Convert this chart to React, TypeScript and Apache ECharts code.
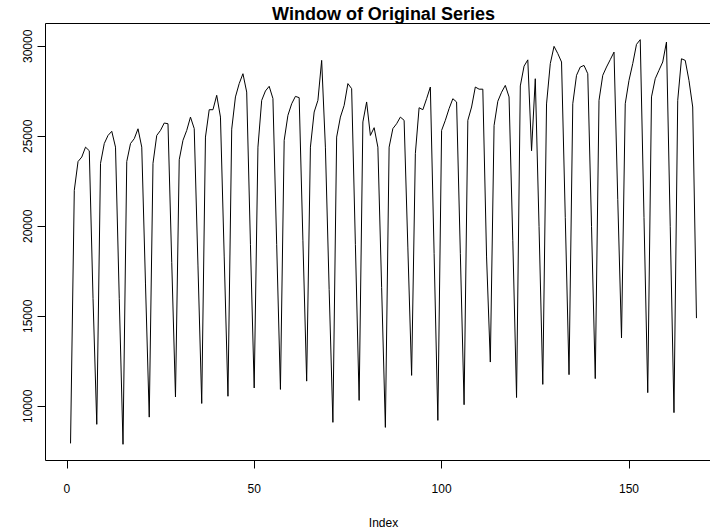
import React, { useEffect, useRef } from "react";
import * as echarts from "echarts";

const chartTitle = "Window of Original Series";
const xAxisName = "Index";
const xTicks = [0, 50, 100, 150];
const yTicks = [10000, 15000, 20000, 25000, 30000];

// values, index 1..168
const seriesValues = [
  7940, 22000, 23600, 23850, 24400, 24200, 16000,
  9000, 23500, 24600, 25050, 25280, 24400, 16000,
  7890, 23600, 24600, 24870, 25420, 24400, 16800,
  9400, 23500, 25050, 25330, 25740, 25700, 18000,
  10520, 23700, 24780, 25330, 26070, 25430, 17800,
  10160, 24960, 26480, 26480, 27280, 26070, 18300,
  10560, 25400, 27190, 27930, 28480, 27460, 19000,
  11020, 24400, 27000, 27520, 27780, 27100, 19000,
  10940, 24780, 26170, 26810, 27220, 27150, 19200,
  11400, 24400, 26350, 27000, 29220, 24400, 16500,
  9110, 24960, 26070, 26720, 27930, 27650, 19000,
  10330, 25800, 26910, 25050, 25480, 24400, 16600,
  8830, 24400, 25430, 25700, 26070, 25890, 18800,
  11720, 24040, 26590, 26480, 27090, 27740, 18500,
  9220, 25330, 25890, 26540, 27090, 26910, 18500,
  10090, 25890, 26630, 27740, 27620, 27620, 18300,
  12460, 25600, 26950, 27450, 27830, 27190, 19200,
  10490, 27800, 28900, 29250, 24200, 28200, 20000,
  11220, 26800, 29040, 30000, 29600, 29130, 20500,
  11760, 26810, 28390, 28850, 28940, 28480, 20000,
  11540, 27000, 28390, 28850, 29260, 29680, 21500,
  13800, 26810, 28110, 29040, 30110, 30370, 20500,
  10760, 27190, 28200, 28670, 29130, 30240, 20000,
  9650, 27000, 29310, 29220, 28110, 26630, 14900,
];

export default function App() {
  const ref = useRef<HTMLDivElement>(null);

  useEffect(() => {
    document.body.style.margin = "0";
    if (!ref.current) return;
    const chart = echarts.init(ref.current, null, { renderer: "svg" });
    const n = seriesValues.length;
    const xPad = (n - 1) * 0.04;
    const yMinV = Math.min(...seriesValues);
    const yMaxV = Math.max(...seriesValues);
    const yPad = (yMaxV - yMinV) * 0.04;
    const font = '"Liberation Sans", Arial, sans-serif';
    const gridLeft = 45.5;
    const gridWidth = 676;

    chart.setOption({
      animation: false,
      textStyle: { fontFamily: font },
      grid: {
        left: gridLeft,
        top: 23.5,
        width: gridWidth,
        height: 437,
        show: true,
        borderColor: "#000",
        borderWidth: 1,
        backgroundColor: "transparent",
        containLabel: false,
        outerBoundsMode: "none",
      },
      graphic: [
        {
          type: "text",
          x: gridLeft + gridWidth / 2,
          y: 14,
          style: {
            text: chartTitle,
            textAlign: "center",
            textVerticalAlign: "middle",
            font: 'bold 18px "Liberation Sans", Arial, sans-serif',
            fill: "#000",
          },
        },
      ],
      xAxis: {
        type: "value",
        min: 1 - xPad,
        max: n + xPad,
        name: xAxisName,
        nameLocation: "middle",
        nameGap: 56,
        nameTextStyle: { fontSize: 12, color: "#000", fontFamily: font },
        axisLine: { show: false, onZero: false },
        axisTick: {
          show: true,
          inside: false,
          length: 8,
          customValues: xTicks,
          lineStyle: { color: "#000", width: 1 },
        },
        axisLabel: {
          customValues: xTicks,
          margin: 22,
          fontSize: 12,
          color: "#000",
          fontFamily: font,
        },
        splitLine: { show: false },
      },
      yAxis: {
        type: "value",
        min: yMinV - yPad,
        max: yMaxV + yPad,
        axisLine: { show: false, onZero: false },
        axisTick: {
          show: true,
          inside: false,
          length: 8,
          customValues: yTicks,
          lineStyle: { color: "#000", width: 1 },
        },
        axisLabel: {
          customValues: yTicks,
          formatter: (v: number) => String(v),
          rotate: 90,
          margin: 12,
          fontSize: 12,
          color: "#000",
          fontFamily: font,
        },
        splitLine: { show: false },
      },
      series: [
        {
          type: "line",
          data: seriesValues.map((v, i) => [i + 1, v]),
          showSymbol: false,
          symbol: "none",
          lineStyle: { color: "#000", width: 1 },
          clip: true,
        },
      ],
    });

    return () => chart.dispose();
  }, []);

  return <div ref={ref} style={{ width: 710, height: 531 }} />;
}
